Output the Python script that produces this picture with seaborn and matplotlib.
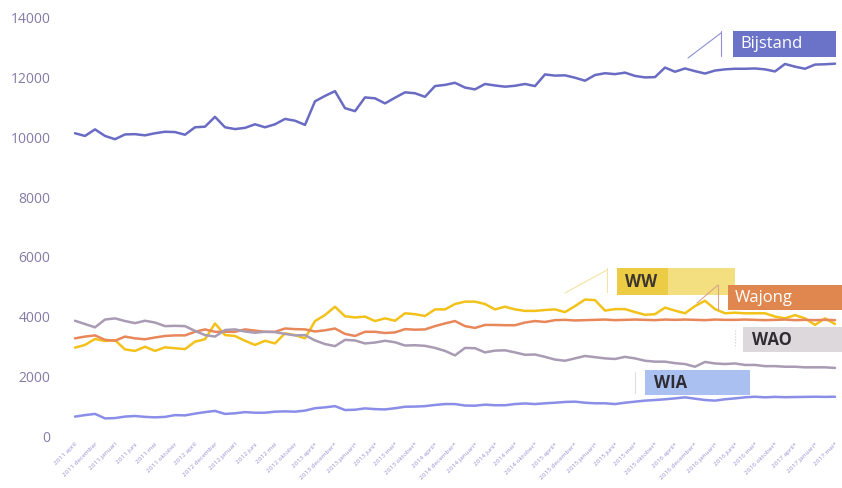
import numpy as np
import pandas as pd
import matplotlib
matplotlib.use("Agg")
import matplotlib.pyplot as plt
import seaborn as sns
from matplotlib.patches import Rectangle
from matplotlib.lines import Line2D

# ---------------- data ----------------
years_full = [2011, 2012, 2013, 2014, 2015, 2016]
months_sorted = ["april", "augustus", "december", "februari", "januari", "juli",
                 "juni", "maart", "mei", "november", "oktober", "september"]
months_2017 = ["april", "februari", "januari", "maart", "mei"]
first_provisional_year = 2013

bijstand = [10140, 10050, 10270, 10050, 9940, 10100, 10110, 10070, 10140, 10190,
            10180, 10090, 10340, 10360, 10690, 10340, 10280, 10320, 10440, 10340,
            10440, 10620, 10560, 10420, 11210, 11390, 11550, 10980, 10880, 11340,
            11310, 11140, 11330, 11510, 11480, 11360, 11720, 11760, 11830, 11670,
            11610, 11790, 11740, 11700, 11730, 11790, 11720, 12110, 12070, 12080,
            12000, 11900, 12090, 12150, 12120, 12170, 12060, 12010, 12020, 12340,
            12200, 12310, 12220, 12140, 12240, 12280, 12300, 12300, 12310, 12280,
            12210, 12460, 12370, 12300, 12440, 12450, 12470]
ww = [2960, 3050, 3250, 3180, 3210, 2900, 2850, 2990, 2850, 2970,
      2940, 2910, 3160, 3240, 3770, 3380, 3350, 3190, 3050, 3190,
      3100, 3440, 3380, 3270, 3850, 4050, 4330, 4010, 3970, 4000,
      3850, 3940, 3860, 4110, 4080, 4020, 4240, 4240, 4420, 4500,
      4500, 4420, 4240, 4330, 4240, 4190, 4190, 4220, 4240, 4150,
      4350, 4570, 4550, 4200, 4250, 4250, 4150, 4060, 4080, 4300,
      4200, 4110, 4350, 4530, 4250, 4110, 4130, 4110, 4110, 4110,
      4000, 3940, 4050, 3940, 3720, 3940, 3750]
wajong = [3270, 3330, 3370, 3220, 3190, 3330, 3270, 3240, 3300, 3350,
          3370, 3370, 3490, 3570, 3490, 3490, 3490, 3570, 3530, 3490,
          3490, 3600, 3580, 3570, 3500, 3540, 3600, 3420, 3350, 3490,
          3490, 3450, 3470, 3580, 3560, 3570, 3680, 3770, 3850, 3680,
          3620, 3720, 3720, 3710, 3710, 3800, 3850, 3820, 3880, 3890,
          3870, 3880, 3890, 3900, 3880, 3890, 3900, 3890, 3880, 3900,
          3890, 3900, 3890, 3880, 3900, 3890, 3890, 3900, 3890, 3880,
          3890, 3900, 3880, 3890, 3880, 3890, 3880]
wao = [3860, 3750, 3640, 3900, 3940, 3850, 3780, 3860, 3800, 3680,
       3690, 3680, 3520, 3380, 3330, 3550, 3570, 3500, 3460, 3490,
       3480, 3420, 3370, 3380, 3200, 3080, 3010, 3220, 3200, 3100,
       3130, 3190, 3140, 3030, 3040, 3020, 2950, 2850, 2700, 2950,
       2940, 2800, 2860, 2870, 2800, 2720, 2730, 2650, 2560, 2520,
       2600, 2680, 2640, 2600, 2580, 2650, 2600, 2520, 2490, 2490,
       2440, 2410, 2320, 2480, 2430, 2410, 2430, 2380, 2380, 2340,
       2340, 2320, 2320, 2300, 2300, 2300, 2280]
wia = [650, 700, 740, 590, 600, 650, 670, 640, 625, 640,
       700, 690, 750, 800, 840, 740, 760, 800, 780, 780,
       815, 825, 815, 850, 930, 960, 1000, 870, 880, 925,
       900, 890, 930, 980, 985, 1000, 1040, 1070, 1070, 1020,
       1015, 1050, 1030, 1030, 1070, 1090, 1070, 1095, 1115, 1140,
       1150, 1115, 1095, 1095, 1070, 1115, 1150, 1185, 1205, 1230,
       1260, 1295, 1250, 1205, 1185, 1230, 1260, 1295, 1315, 1295,
       1310, 1300, 1305, 1310, 1315, 1310, 1315]

series_names = ["Bijstand", "WW", "Wajong", "WAO", "WIA"]
series_values = [bijstand, ww, wajong, wao, wia]
y_ticks = [0, 2000, 4000, 6000, 8000, 10000, 12000, 14000]

periods = []
for y in years_full:
    for m in months_sorted:
        periods.append(f"{y} {m}" + ("*" if y >= first_provisional_year else ""))
for m in months_2017:
    periods.append(f"2017 {m}*")

rows = []
for name, vals in zip(series_names, series_values):
    for i, v in enumerate(vals):
        rows.append({"idx": i, "periode": periods[i], "regeling": name, "aantal": v})
df = pd.DataFrame(rows)

# ---------------- style ----------------
sns.set_theme(style="white")
plt.rcParams["font.family"] = ["Open Sans", "DejaVu Sans"]

palette = {"Bijstand": "#6a6cc4", "WW": "#f2c21b", "Wajong": "#e8875a",
           "WAO": "#a99bb3", "WIA": "#8a8ee8"}

W, H = 842, 488
fig = plt.figure(figsize=(W / 100, H / 100), dpi=100)
ax = fig.add_axes([70 / W, (H - 436) / H, (840 - 70) / W, (436 - 18) / H])

sns.lineplot(data=df, x="idx", y="aantal", hue="regeling", palette=palette,
             hue_order=series_names, linewidth=1.8, legend=False, ax=ax)

n = len(periods)
ax.set_xlim(-0.5, n - 0.5)
ax.set_ylim(0, 14000)
ax.set_yticks(y_ticks)
ax.set_yticklabels([str(t) for t in y_ticks], color="#857aa6", fontsize=10)
ax.set_xticks(list(range(0, n, 2)))
ax.set_xticklabels(periods[::2], rotation=45, ha="right", rotation_mode="anchor",
                   fontsize=4.6, color="#9a8fd2")
ax.tick_params(axis="y", length=0, pad=14)
ax.tick_params(axis="x", length=0, pad=4)
ax.set_xlabel("")
ax.set_ylabel("")
for s in ax.spines.values():
    s.set_visible(False)
ax.grid(False)


# ---------------- callout labels ----------------
def rect(x0, y0, x1, y1, color):
    fig.add_artist(Rectangle((x0 / W, 1 - y1 / H), (x1 - x0) / W, (y1 - y0) / H,
                             transform=fig.transFigure, facecolor=color,
                             edgecolor="none", zorder=5))


def line(xs, ys, color, lw=0.8, ls="-"):
    fig.add_artist(Line2D([x / W for x in xs], [1 - y / H for y in ys],
                          transform=fig.transFigure, color=color, lw=lw, ls=ls, zorder=5))


def label(x, y, s, color, weight="normal", size=11):
    fig.text(x / W, 1 - y / H, s, color=color, fontsize=size, fontweight=weight,
             ha="left", va="center", zorder=6)


# Bijstand
line([688, 721], [58, 33], "#8d90d2")
line([721, 721], [31, 56], "#8d90d2")
rect(733, 31, 836, 57, "#6a73c8")
label(740, 44, "Bijstand", "white", size=12)

# WW
line([565, 607], [293, 270], "#f2e3a6")
line([607, 607], [268, 292], "#f2e3a6")
rect(617, 268, 668, 295, "#eccb45")
rect(668, 268, 735, 295, "#f3df80")
label(625, 282, "WW", "#3a3530", weight="bold", size=12)

# Wajong
line([697, 718], [303, 285], "#dba48a")
line([718, 718], [285, 310], "#dba48a")
rect(728, 285, 842, 310, "#e0874f")
label(735, 298, "Wajong", "white", size=12)

# WAO
line([735, 735], [330, 348], "#d0cccf", ls=":")
rect(743, 327, 842, 352, "#dcd8db")
label(752, 340, "WAO", "#2f2d33", weight="bold", size=12)

# WIA
line([635, 635], [372, 393], "#dedede")
rect(645, 370, 750, 395, "#aac0f0")
label(654, 383, "WIA", "#2f2d33", weight="bold", size=12)

fig.savefig("out.png", dpi=100)
